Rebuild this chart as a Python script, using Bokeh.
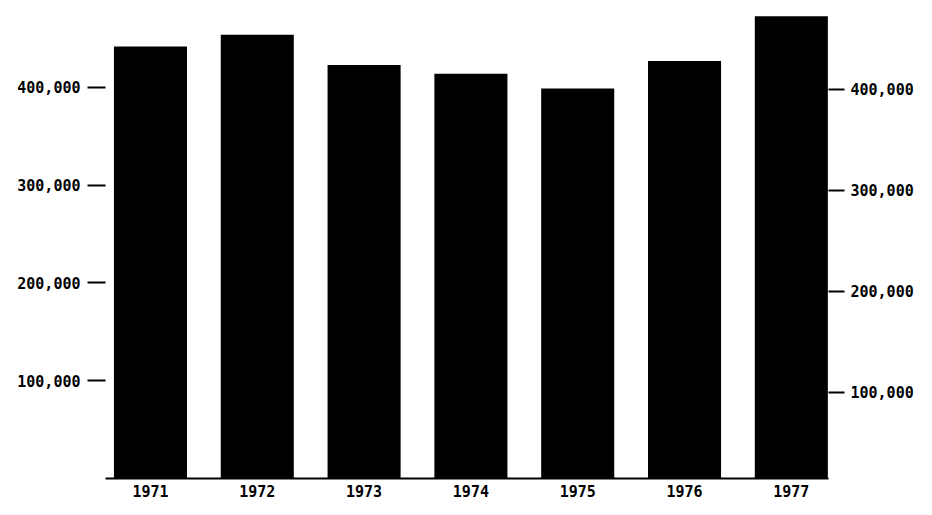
from bokeh.plotting import figure
from bokeh.models import (Range1d, LinearAxis, FixedTicker, NumeralTickFormatter)
from bokeh.embed import file_html
from bokeh.resources import INLINE

# ---- data ----
years = ["1971", "1972", "1973", "1974", "1975", "1976", "1977"]
values = [442000, 454000, 423000, 414000, 399000, 427000, 473000]
tick_values = [100000, 200000, 300000, 400000]

xs = list(range(len(years)))
FONT = "DejaVu Sans Mono"

p = figure(width=916, height=499, output_backend="svg", toolbar_location=None,
           x_range=Range1d(-0.421, 6.348), y_range=Range1d(0, 489000),
           min_border_left=105, min_border_right=88, min_border_top=0,
           min_border_bottom=21, y_axis_location=None)
p.outline_line_color = None
p.xgrid.visible = False
p.ygrid.visible = False
p.background_fill_color = "white"
p.border_fill_color = "white"

p.vbar(x=xs, top=values, bottom=0, width=0.684, fill_color="black",
       line_color=None)

# bottom axis: years
xa = p.xaxis[0]
xa.ticker = FixedTicker(ticks=xs)
xa.major_label_overrides = {i: y for i, y in enumerate(years)}
xa.major_tick_line_color = None
xa.minor_tick_line_color = None
xa.axis_line_color = "black"
xa.axis_line_width = 2
xa.major_label_standoff = 0
xa.major_label_text_font = FONT
xa.major_label_text_font_style = "bold"
xa.major_label_text_font_size = "15px"
xa.major_label_text_color = "black"

# left axis
la = LinearAxis(ticker=FixedTicker(ticks=tick_values),
                formatter=NumeralTickFormatter(format="0,0"))
la.axis_line_color = None
la.major_tick_in = 0
la.major_tick_out = 18
la.major_tick_line_width = 2
la.minor_tick_line_color = None
la.major_label_standoff = 7
la.major_label_text_font = FONT
la.major_label_text_font_style = "bold"
la.major_label_text_font_size = "15px"
la.major_label_text_color = "black"
p.add_layout(la, "left")

# right axis (slightly different scale, as in the original)
p.extra_y_ranges = {"right": Range1d(14850, 488100)}
ra = LinearAxis(y_range_name="right", ticker=FixedTicker(ticks=tick_values),
                formatter=NumeralTickFormatter(format="0,0"))
ra.axis_line_color = None
ra.major_tick_in = 0
ra.major_tick_out = 16
ra.major_tick_line_width = 2
ra.minor_tick_line_color = None
ra.major_label_standoff = 6
ra.major_label_text_font = FONT
ra.major_label_text_font_style = "bold"
ra.major_label_text_font_size = "15px"
ra.major_label_text_color = "black"
p.add_layout(ra, "right")

open("out.html", "w").write(file_html(p, INLINE))
